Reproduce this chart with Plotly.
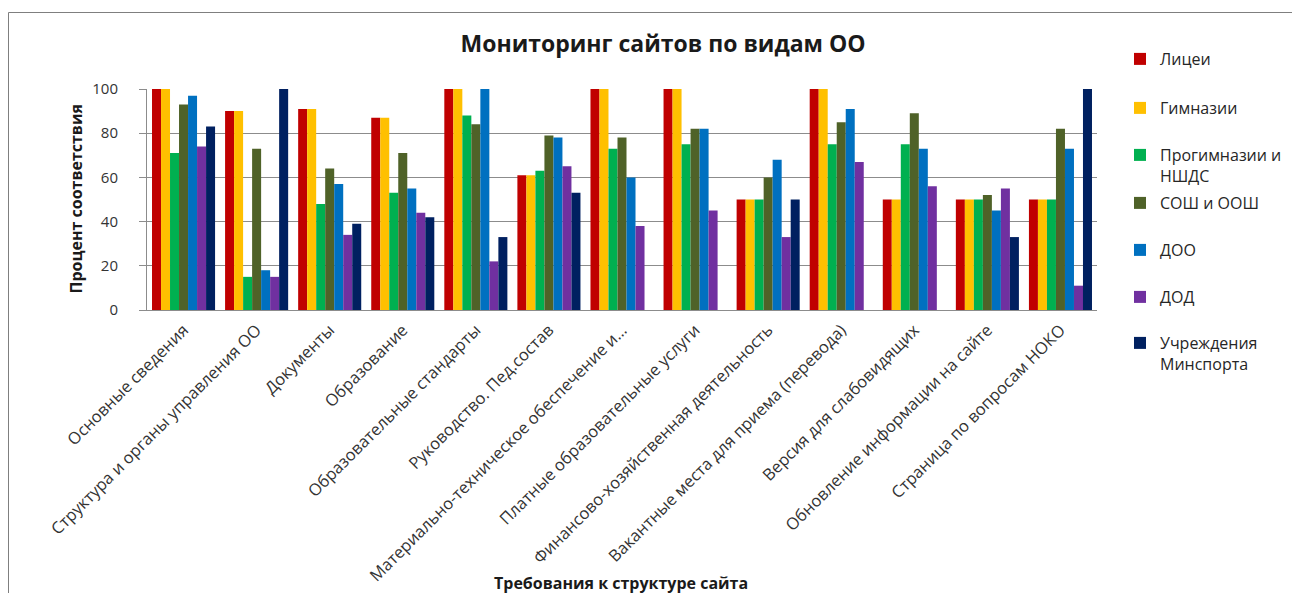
import plotly.graph_objects as go

categories = [
    "Основные сведения",
    "Структура и органы управления ОО",
    "Документы",
    "Образование",
    "Образовательные стандарты",
    "Руководство. Пед.состав",
    "Материально-техническое обеспечение и...",
    "Платные образовательные услуги",
    "Финансово-хозяйственная деятельность",
    "Вакантные места для приема (перевода)",
    "Версия для слабовидящих",
    "Обновление информации на сайте",
    "Страница по вопросам НОКО",
]

licei = [100, 90, 91, 87, 100, 61, 100, 100, 50, 100, 50, 50, 50]
gimnazii = [100, 90, 91, 87, 100, 61, 100, 100, 50, 100, 50, 50, 50]
progimnazii = [71, 15, 48, 53, 88, 63, 73, 75, 50, 75, 75, 50, 50]
sosh = [93, 73, 64, 71, 84, 79, 78, 82, 60, 85, 89, 52, 82]
doo = [97, 18, 57, 55, 100, 78, 60, 82, 68, 91, 73, 45, 73]
dod = [74, 15, 34, 44, 22, 65, 38, 45, 33, 67, 56, 55, 11]
minsport = [83, 100, 39, 42, 33, 53, 0, 0, 50, 0, 0, 33, 100]

series_names = ["Лицеи", "Гимназии", "Прогимназии и<br>НШДС", "СОШ и ООШ",
                "ДОО", "ДОД", "Учреждения<br>Минспорта"]
series_values = [licei, gimnazii, progimnazii, sosh, doo, dod, minsport]
colors = ["#C00000", "#FFC000", "#00B050", "#4F6228", "#0070C0", "#7030A0", "#002060"]

y_ticks = [0, 20, 40, 60, 80, 100]

FONT = "Open Sans"
W, H = 1292, 585
L, R, T, B = 139, 203, 81, 283
PW, PH = W - L - R, H - T - B

# top edge (px from figure top) of each one-item legend box
legend_tops = [34, 83, 130, 178, 225, 272, 318]

fig = go.Figure()
legend_layout = {}
for i, (name, vals, col) in enumerate(zip(series_names, series_values, colors)):
    lg = "legend" if i == 0 else f"legend{i + 1}"
    fig.add_trace(go.Bar(
        x=categories, y=vals, name=name,
        marker=dict(color=col, line=dict(width=0)),
        legend=lg,
    ))
    legend_layout[lg] = dict(
        x=(1112 - L) / PW, xanchor="left",
        y=(H - B - legend_tops[i]) / PH, yanchor="top",
        font=dict(size=16, color="#262626", family=FONT),
        itemwidth=30, valign="top",
        bgcolor="rgba(0,0,0,0)", borderwidth=0,
    )

fig.update_layout(
    width=W, height=H,
    margin=dict(l=L, r=R, t=T, b=B, autoexpand=False),
    paper_bgcolor="white", plot_bgcolor="white",
    barmode="group", bargap=0.137, bargroupgap=0,
    font=dict(family=FONT, color="#262626", size=12),
    title=dict(text="<b>Мониторинг сайтов по видам ОО</b>",
               x=0.507, xanchor="center", y=1 - 36 / H, yanchor="middle",
               font=dict(size=23, color="#1a1a1a", family=FONT)),
    showlegend=True,
    **legend_layout,
)

fig.update_yaxes(
    range=[0, 100], tickvals=y_ticks, ticktext=[str(v) for v in y_ticks],
    showgrid=True, gridcolor="#8c8c8c", gridwidth=1,
    showline=True, linecolor="#8c8c8c", linewidth=1,
    ticks="outside", ticklen=7, tickcolor="#8c8c8c",
    ticklabelstandoff=18,
    tickfont=dict(size=15, color="#333333"),
    zeroline=False,
)
fig.update_xaxes(
    tickangle=-45, tickfont=dict(size=16.5, color="#333333"),
    showline=True, linecolor="#8c8c8c", linewidth=1,
    ticks="", automargin=False, ticklabelstandoff=3,
)

# axis titles
fig.add_annotation(text="<b>Процент соответствия</b>", textangle=-90,
                   xref="paper", yref="paper", x=(67 - L) / PW, y=0.5,
                   xanchor="center", yanchor="middle", showarrow=False,
                   font=dict(size=16, color="#1a1a1a"))
fig.add_annotation(text="<b>Требования к структуре сайта</b>",
                   xref="paper", yref="paper", x=(613 - L) / PW, y=-(575 - (H - B)) / PH,
                   xanchor="center", yanchor="middle", showarrow=False,
                   font=dict(size=16, color="#1a1a1a"))

# outer chart border
fig.add_shape(type="rect", xref="paper", yref="paper",
              x0=(0.5 - L) / PW, x1=(W + 20 - L) / PW,
              y0=-(H + 20 - (H - B)) / PH, y1=(H - B - 4.5) / PH,
              line=dict(color="#7f7f7f", width=1), layer="below")

fig.write_html("out.html")
